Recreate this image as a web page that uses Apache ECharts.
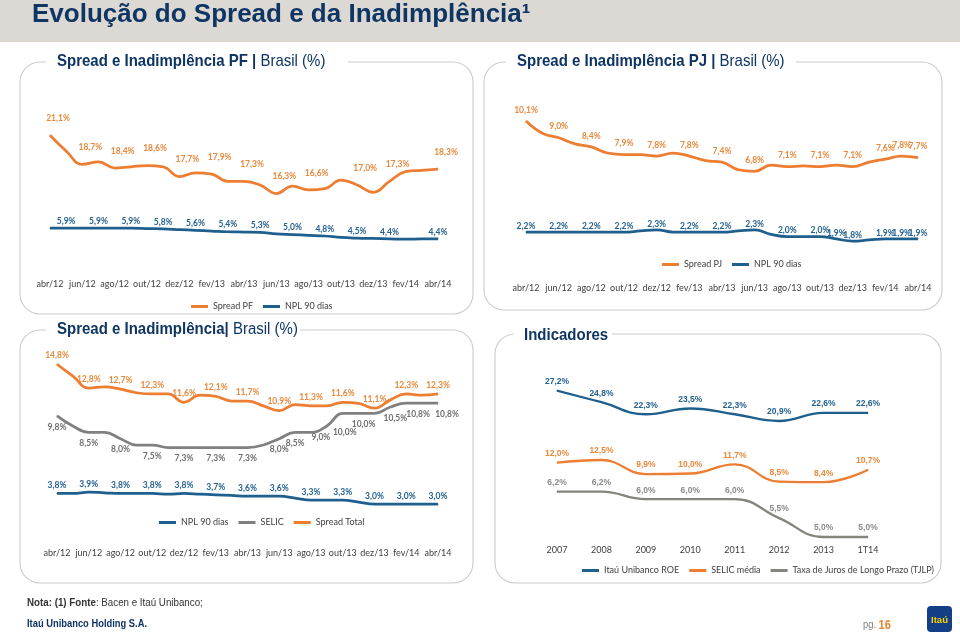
<!DOCTYPE html>
<html><head><meta charset="utf-8">
<script src="https://cdn.jsdelivr.net/npm/echarts@6/dist/echarts.min.js"></script>
<style>html,body{margin:0;padding:0;background:#fff}#c{width:960px;height:634px}</style>
</head><body><div id="c"></div>
<script>
// ---------- DATA ----------
const months = ['abr/12','mai/12','jun/12','jul/12','ago/12','set/12','out/12','nov/12','dez/12','jan/13','fev/13','mar/13','abr/13','mai/13','jun/13','jul/13','ago/13','set/13','out/13','nov/13','dez/13','jan/14','fev/14','mar/14','abr/14'];

const spreadPF = [21.1,19.8,18.7,18.9,18.4,18.5,18.6,18.5,17.7,18.0,17.9,17.3,17.3,17.0,16.3,16.9,16.6,16.7,17.4,17.0,16.4,17.3,18.1,18.2,18.3];
const spreadPFLabels = [0,2,4,6,8,10,12,14,16,19,21,24];
const nplPF = [5.9,5.9,5.9,5.9,5.9,5.9,5.85,5.8,5.7,5.6,5.5,5.4,5.35,5.3,5.1,5.0,4.9,4.8,4.6,4.5,4.45,4.4,4.35,4.4,4.4];
const nplPFLabels = [1,3,5,7,9,11,13,15,17,19,21,24];

const spreadPJ = [10.1,9.3,9.0,8.6,8.4,8.0,7.9,7.9,7.8,8.0,7.8,7.5,7.4,6.9,6.8,7.2,7.1,7.15,7.1,7.2,7.1,7.4,7.6,7.8,7.7];
const spreadPJLabels = [0,2,4,6,8,10,12,14,16,18,20,22,23,24];
const nplPJ = [2.2,2.2,2.2,2.2,2.2,2.2,2.2,2.25,2.3,2.2,2.2,2.2,2.2,2.25,2.3,2.1,2.0,2.0,2.0,1.9,1.8,1.85,1.9,1.9,1.9];
const nplPJLabels = [0,2,4,6,8,10,12,14,16,18,19,20,22,23,24];

const spreadTotal = [14.8,13.8,12.8,12.9,12.7,12.4,12.3,12.3,11.6,12.2,12.1,11.7,11.7,11.3,10.9,11.4,11.3,11.3,11.6,11.5,11.1,11.8,12.3,12.2,12.3];
const spreadTotalLabels = [0,2,4,6,8,10,12,14,16,18,20,22,24];
const selic = [9.8,9.0,8.5,8.5,8.0,7.5,7.5,7.3,7.3,7.3,7.3,7.3,7.3,7.5,8.0,8.5,8.5,9.0,10.0,10.0,10.0,10.5,10.8,10.8,10.8];
const selicLabels = [0,2,4,6,8,10,12,14,15,17,18,19,21,23,24];
const nplTotal = [3.8,3.8,3.9,3.85,3.8,3.8,3.8,3.75,3.8,3.75,3.7,3.65,3.6,3.6,3.6,3.45,3.3,3.3,3.3,3.15,3.0,3.0,3.0,3.0,3.0];
const nplTotalLabels = [0,2,4,6,8,10,12,14,16,18,20,22,24];

const years = ['2007','2008','2009','2010','2011','2012','2013','1T14'];
const roe = [27.2,24.8,22.3,23.5,22.3,20.9,22.6,22.6];
const selicMedia = [12.0,12.5,9.9,10.0,11.7,8.5,8.4,10.7];
const tjlp = [6.2,6.2,6.0,6.0,6.0,5.5,5.0,5.0];

// ---------- STYLE ----------
const ORANGE = '#ED7D31', BLUE = '#1F5F8E', GRAY = '#808080';
const NAVY = '#0F3563';
const CAL = 'Lato, "Open Sans", sans-serif';
const ARIAL = '"Liberation Sans", Arial, sans-serif';

// label nudges (style only): dataIndex -> [dx, dy]
const selicLabelShift = { 17: [-6, 0], 18: [2, 8], 19: [5, 0], 21: [5, 0], 23: [-4, 0], 24: [9, 0] };

const fmt = v => v.toFixed(1).replace('.', ',') + '%';

function ser(name, data, labelIdx, color, labelColor, xi, yi, o) {
  o = o || {};
  const set = labelIdx ? new Set(labelIdx) : null;
  const shift = o.shift || {};
  return {
    type: 'line', name, xAxisIndex: xi, yAxisIndex: yi,
    data: data.map((v, i) => shift[i] ? { value: v, label: { offset: shift[i] } } : v),
    smooth: 0.45,
    symbol: 'circle', symbolSize: 1, showSymbol: true,
    lineStyle: { color, width: o.width || 2.75 },
    itemStyle: { color },
    label: {
      show: true, position: o.pos || 'top', distance: o.dist === undefined ? 4 : o.dist,
      offset: o.offset || [0, 0],
      color: labelColor, fontFamily: o.font || CAL, fontSize: o.fs || 8.5, fontWeight: 'bold',
      formatter: p => (!set || set.has(p.dataIndex)) ? fmt(p.value) : ''
    },
    emphasis: { disabled: true }, silent: true, z: 3
  };
}

function xAx(gi, data, margin, interval) {
  return {
    type: 'category', gridIndex: gi, data, boundaryGap: false,
    axisLine: { show: false }, axisTick: { show: false }, splitLine: { show: false },
    axisLabel: { interval, margin, fontFamily: CAL, fontSize: 9, color: '#404040' }
  };
}
function yAx(gi, min, max) {
  return { type: 'value', gridIndex: gi, min, max, show: false };
}

const legendBase = {
  icon: 'rect', itemWidth: 17, itemHeight: 3, itemGap: 10, selectedMode: false,
  textStyle: { fontFamily: CAL, fontSize: 9, color: '#404040' }
};

function box(x, y, w, h) {
  return { type: 'rect', z: 1, silent: true, shape: { x, y, width: w, height: h, r: 20 },
    style: { fill: 'none', stroke: '#CCCCCC', lineWidth: 1.1 } };
}
function gap(x, y, w) {
  return { type: 'rect', z: 2, silent: true, shape: { x, y: y - 7, width: w, height: 14 }, style: { fill: '#fff' } };
}
function title(x, y, text, rich, sx, sy) {
  return { type: 'text', z: 3, silent: true, x, y, scaleX: sx || 1, scaleY: sy || 1,
    style: { text, rich, verticalAlign: 'middle', fill: NAVY } };
}

const chart = echarts.init(document.getElementById('c'), null, { renderer: 'canvas' });
chart.setOption({
  animation: false,
  backgroundColor: '#fff',
  grid: [
    { left: 50, top: 100, width: 388, height: 170 },
    { left: 526, top: 92, width: 392, height: 183 },
    { left: 57, top: 350, width: 381, height: 190 },
    { left: 557, top: 370, width: 311, height: 170 }
  ],
  xAxis: [
    xAx(0, months, 10, 1),
    xAx(1, months, 8.5, 1),
    xAx(2, months, 8.5, 1),
    xAx(3, years, 6, 0)
  ],
  yAxis: [
    yAx(0, 10, 24), yAx(0, 0, 24),
    yAx(1, 0, 12), yAx(1, 0.3, 8.4),
    yAx(2, 0, 16), yAx(2, 0, 15), yAx(2, 0.3, 14.6),
    yAx(3, -3.84, 31.5), yAx(3, -2.31, 29.17), yAx(3, 4.92, 9.42)
  ],
  legend: [
    Object.assign({}, legendBase, { left: 186, top: 297, data: ['Spread PF', 'NPL 90 dias'] }),
    Object.assign({}, legendBase, { left: 657, top: 255, data: ['Spread PJ', 'NPL 90 dias'] }),
    Object.assign({}, legendBase, { left: 154, top: 513, data: ['NPL 90 dias', 'SELIC', 'Spread Total'] }),
    Object.assign({}, legendBase, { left: 577, top: 561, data: ['Itaú Unibanco ROE', 'SELIC média', 'Taxa de Juros de Longo Prazo (TJLP)'] })
  ],
  series: [
    ser('Spread PF', spreadPF, spreadPFLabels, ORANGE, '#E8893B', 0, 0, { dist: 12, offset: [8, 0] }),
    ser('NPL 90 dias', nplPF, nplPFLabels, BLUE, '#23618F', 0, 1, { dist: 2 }),
    ser('Spread PJ', spreadPJ, spreadPJLabels, ORANGE, '#E8893B', 1, 2, { dist: 6 }),
    ser('NPL 90 dias', nplPJ, nplPJLabels, BLUE, '#23618F', 1, 3, { dist: 1 }),
    ser('Spread Total', spreadTotal, spreadTotalLabels, ORANGE, '#E8893B', 2, 4, { dist: 4 }),
    ser('SELIC', selic, selicLabels, GRAY, '#6E6E6E', 2, 5, { dist: 6, pos: 'bottom', shift: selicLabelShift }),
    ser('NPL 90 dias', nplTotal, nplTotalLabels, BLUE, '#23618F', 2, 6, { dist: 3 }),
    ser('Itaú Unibanco ROE', roe, null, BLUE, '#23618F', 3, 7, { dist: 4, font: ARIAL, fs: 8.5, width: 2.3 }),
    ser('SELIC média', selicMedia, null, ORANGE, '#E8893B', 3, 8, { dist: 4, font: ARIAL, fs: 8.5, width: 2.3 }),
    ser('Taxa de Juros de Longo Prazo (TJLP)', tjlp, null, '#85857D', '#8A8A8A', 3, 9, { dist: 4, font: ARIAL, fs: 8.5, width: 2.3 })
  ],
  graphic: [
    { type: 'rect', z: 0, silent: true, shape: { x: 0, y: 0, width: 960, height: 42 }, style: { fill: '#DCD8D3' } },
    { type: 'text', z: 3, silent: true, x: 32, y: 15,
      style: { text: 'Evolução do Spread e da Inadimplência¹', fill: NAVY, fontSize: 26, fontWeight: 'bold', fontFamily: ARIAL, verticalAlign: 'middle' } },

    box(20, 62, 453, 252), gap(46, 62, 302),
    title(57, 62, '{b|Spread e Inadimplência PF |}{n| Brasil (%)}', {
      b: { fontFamily: ARIAL, fontSize: 15, fontWeight: 'bold', fill: NAVY },
      n: { fontFamily: ARIAL, fontSize: 15, fill: NAVY } }, 1, 1.08),

    box(484, 62, 458, 248), gap(506, 62, 290),
    title(517, 62, '{b|Spread e Inadimplência PJ |}{n| Brasil (%)}', {
      b: { fontFamily: ARIAL, fontSize: 15, fontWeight: 'bold', fill: NAVY },
      n: { fontFamily: ARIAL, fontSize: 15, fill: NAVY } }, 1, 1.08),

    box(20, 330, 453, 253), gap(46, 330, 254),
    title(57, 329, '{b|Spread e Inadimplência|}{n| Brasil (%)}', {
      b: { fontFamily: ARIAL, fontSize: 15, fontWeight: 'bold', fill: NAVY },
      n: { fontFamily: ARIAL, fontSize: 15, fill: NAVY } }, 1, 1.15),

    box(495, 334, 446, 249), gap(514, 334, 98),
    title(524, 335, '{b|Indicadores}', {
      b: { fontFamily: ARIAL, fontSize: 15, fontWeight: 'bold', fill: NAVY } }, 1, 1.15),

    title(27, 603, '{b|Nota: (1) Fonte}{n|: Bacen e Itaú Unibanco;}', {
      b: { fontFamily: ARIAL, fontSize: 10.5, fontWeight: 'bold', fill: '#333' },
      n: { fontFamily: ARIAL, fontSize: 10.5, fill: '#333' } }, 0.93, 1),
    title(27, 624, '{b|Itaú Unibanco Holding S.A.}', {
      b: { fontFamily: ARIAL, fontSize: 11, fontWeight: 'bold', fill: NAVY } }, 0.85, 1),
    title(863, 625, '{n|pg. }{o|16}', {
      n: { fontFamily: ARIAL, fontSize: 11, fill: '#7F7F7F' },
      o: { fontFamily: ARIAL, fontSize: 13, fontWeight: 'bold', fill: '#E8822E' } }, 0.85, 1),
    { type: 'rect', z: 2, silent: true, shape: { x: 927, y: 606, width: 25, height: 26, r: 4 }, style: { fill: '#123F86' } },
    { type: 'text', z: 3, silent: true, x: 939.5, y: 620,
      style: { text: 'Itaú', fill: '#FFD200', fontSize: 9.5, fontWeight: 'bold', fontFamily: ARIAL, align: 'center', verticalAlign: 'middle' } }
  ]
});
</script>
</body></html>
